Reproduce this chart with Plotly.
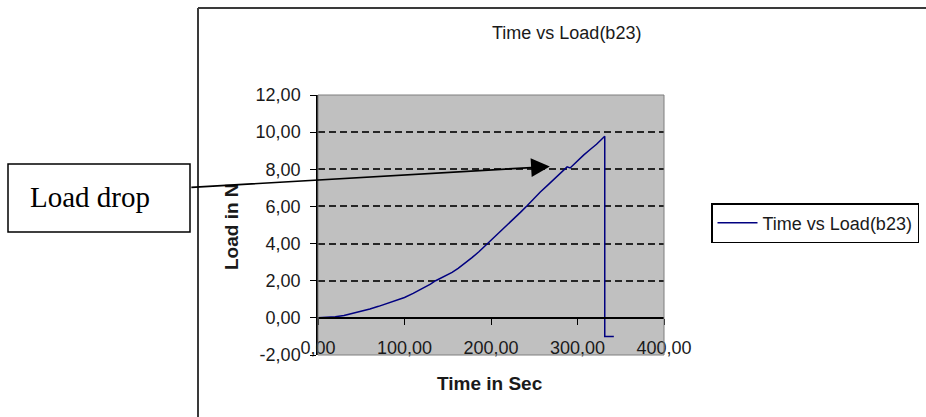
import plotly.graph_objects as go

# ---- data ----
time_s = [0, 10, 20, 30, 40, 50, 60, 70, 80, 90, 100, 110, 120, 130, 136,
          146, 155, 162, 170, 178, 186, 195, 205, 215, 225, 234, 242, 249,
          257, 265, 272, 278, 284, 288, 291.5, 299, 307, 315, 322, 331.5,
          331.5, 342]
load_n = [0.00, 0.02, 0.06, 0.13, 0.24, 0.36, 0.48, 0.62, 0.78, 0.93, 1.10,
          1.32, 1.56, 1.82, 2.00, 2.22, 2.45, 2.66, 2.94, 3.24, 3.56, 3.95,
          4.42, 4.86, 5.28, 5.68, 6.05, 6.40, 6.78, 7.12, 7.42, 7.70, 7.98,
          8.13, 8.07, 8.42, 8.76, 9.08, 9.35, 9.78, -1.00, -1.00]

x_ticks = [0, 100, 200, 300, 400]
x_ticktext = ["0,00", "100,00", "200,00", "300,00", "400,00"]
y_ticks = [-2, 0, 2, 4, 6, 8, 10, 12]
y_ticktext = ["-2,00", "0,00", "2,00", "4,00", "6,00", "8,00", "10,00", "12,00"]

series_name = "Time vs Load(b23)"
chart_title = "Time vs Load(b23)"
x_title = "Time in Sec"
y_title = "Load in N"
callout_text = "Load drop"

# ---- layout geometry (pixels) ----
W, H = 926, 417
PL, PR, PT, PB = 318, 664, 95, 355  # plot area edges
pw, ph = PR - PL, PB - PT


def px(x):
    return (x - PL) / pw


def py(y):
    return (PB - y) / ph


FONT = "Liberation Sans, Arial, sans-serif"
TXT = "#1a1a1a"

fig = go.Figure()
fig.add_trace(go.Scatter(
    x=time_s, y=load_n, mode="lines", name=series_name,
    line=dict(color="#000080", width=1.5),
))

shapes = [
    # plot area border (gray)
    dict(type="rect", xref="paper", yref="paper", x0=0, x1=1, y0=0, y1=1,
         line=dict(color="#7f7f7f", width=1), layer="above"),
    # outer chart frame (top and left edges visible)
    dict(type="line", xref="paper", yref="paper", x0=px(198), x1=px(930),
         y0=py(8), y1=py(8), line=dict(color="#3a3a3a", width=2)),
    dict(type="line", xref="paper", yref="paper", x0=px(198), x1=px(198),
         y0=py(8), y1=py(425), line=dict(color="#3a3a3a", width=2)),
    # callout box
    dict(type="rect", xref="paper", yref="paper", x0=px(8), x1=px(190),
         y0=py(232), y1=py(164), line=dict(color="black", width=1.5),
         fillcolor="white"),
]

annotations = [
    dict(text=chart_title, xref="paper", yref="paper", x=px(566), y=py(33),
         showarrow=False, font=dict(family=FONT, size=18, color=TXT),
         xanchor="center", yanchor="middle"),
    dict(text="<b>" + x_title + "</b>", xref="paper", yref="paper",
         x=px(490), y=py(383), showarrow=False,
         font=dict(family=FONT, size=19, color=TXT),
         xanchor="center", yanchor="middle"),
    dict(text="<b>" + y_title + "</b>", xref="paper", yref="paper",
         x=px(231), y=py(227), showarrow=False, textangle=-90,
         font=dict(family=FONT, size=19, color=TXT),
         xanchor="center", yanchor="middle"),
    dict(text=callout_text, xref="paper", yref="paper", x=px(90), y=py(197),
         showarrow=False,
         font=dict(family="Liberation Serif, Times New Roman, serif",
                   size=29, color="black"),
         xanchor="center", yanchor="middle"),
    # arrow from callout box to the curve
    dict(text="", xref="x", yref="y", x=268, y=8.15, ax=-360, ay=21,
         axref="pixel", ayref="pixel", showarrow=True, arrowhead=2,
         arrowsize=2.2, arrowwidth=1.7, arrowcolor="black"),
]

fig.update_layout(
    width=W, height=H,
    margin=dict(l=PL, r=W - PR, t=PT, b=H - PB, autoexpand=False),
    paper_bgcolor="white",
    plot_bgcolor="#c0c0c0",
    font=dict(family=FONT, size=18, color=TXT),
    showlegend=True,
    legend=dict(x=px(711), y=py(203), xanchor="left", yanchor="top",
                bgcolor="white", bordercolor="black", borderwidth=1.5,
                font=dict(family=FONT, size=18, color=TXT),
                itemwidth=40),
    xaxis=dict(range=[0, 400], tickvals=x_ticks, ticktext=x_ticktext,
               showgrid=False, zeroline=False, showline=True,
               linecolor="black", linewidth=1.5, ticks="outside",
               ticklen=6, tickcolor="black", anchor="free",
               position=(0 - (-2)) / (12 - (-2)), ticklabelstandoff=8,
               tickfont=dict(family=FONT, size=18, color=TXT)),
    yaxis=dict(range=[-2, 12], tickvals=y_ticks, ticktext=y_ticktext,
               showgrid=True, gridcolor="#262626", griddash="7px,4px",
               gridwidth=1.7, zeroline=False, showline=True,
               linecolor="black", linewidth=1.5, ticks="outside",
               ticklen=6, tickcolor="black", ticklabelstandoff=6,
               tickfont=dict(family=FONT, size=18, color=TXT)),
    shapes=shapes,
    annotations=annotations,
)

fig.write_html("out.html")
